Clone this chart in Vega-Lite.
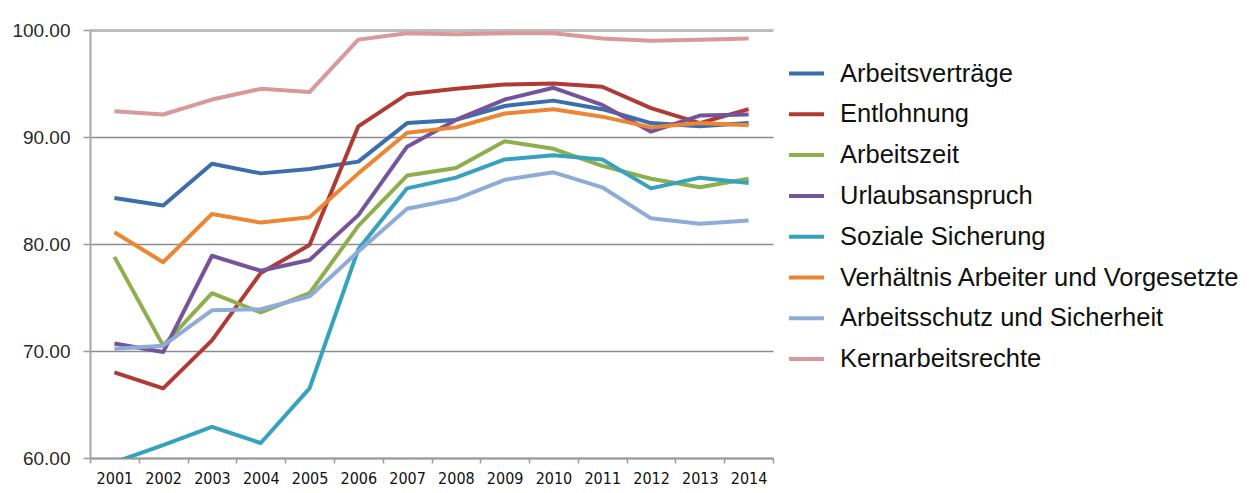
{
  "$schema": "https://vega.github.io/schema/vega-lite/v6.json",
  "width": 683,
  "height": 428,
  "autosize": {"type": "none"},
  "padding": {"left": 90, "top": 30, "right": 487, "bottom": 35},
  "background": "white",
  "config": {
    "view": {"stroke": null},
    "axis": {"labelFont": "Liberation Sans", "labelColor": "#222", "title": null}
  },
  "data": {
    "values": [
      {"year":"2001","series":"Arbeitsverträge","value":84.3},{"year":"2002","series":"Arbeitsverträge","value":83.6},{"year":"2003","series":"Arbeitsverträge","value":87.5},{"year":"2004","series":"Arbeitsverträge","value":86.6},{"year":"2005","series":"Arbeitsverträge","value":87.0},{"year":"2006","series":"Arbeitsverträge","value":87.7},{"year":"2007","series":"Arbeitsverträge","value":91.3},{"year":"2008","series":"Arbeitsverträge","value":91.6},{"year":"2009","series":"Arbeitsverträge","value":92.9},{"year":"2010","series":"Arbeitsverträge","value":93.4},{"year":"2011","series":"Arbeitsverträge","value":92.6},{"year":"2012","series":"Arbeitsverträge","value":91.3},{"year":"2013","series":"Arbeitsverträge","value":91.0},{"year":"2014","series":"Arbeitsverträge","value":91.3},
      {"year":"2001","series":"Entlohnung","value":68.0},{"year":"2002","series":"Entlohnung","value":66.5},{"year":"2003","series":"Entlohnung","value":71.0},{"year":"2004","series":"Entlohnung","value":77.3},{"year":"2005","series":"Entlohnung","value":79.9},{"year":"2006","series":"Entlohnung","value":91.0},{"year":"2007","series":"Entlohnung","value":94.0},{"year":"2008","series":"Entlohnung","value":94.5},{"year":"2009","series":"Entlohnung","value":94.9},{"year":"2010","series":"Entlohnung","value":95.0},{"year":"2011","series":"Entlohnung","value":94.7},{"year":"2012","series":"Entlohnung","value":92.7},{"year":"2013","series":"Entlohnung","value":91.3},{"year":"2014","series":"Entlohnung","value":92.6},
      {"year":"2001","series":"Arbeitszeit","value":78.8},{"year":"2002","series":"Arbeitszeit","value":70.5},{"year":"2003","series":"Arbeitszeit","value":75.4},{"year":"2004","series":"Arbeitszeit","value":73.6},{"year":"2005","series":"Arbeitszeit","value":75.4},{"year":"2006","series":"Arbeitszeit","value":81.7},{"year":"2007","series":"Arbeitszeit","value":86.4},{"year":"2008","series":"Arbeitszeit","value":87.1},{"year":"2009","series":"Arbeitszeit","value":89.6},{"year":"2010","series":"Arbeitszeit","value":88.9},{"year":"2011","series":"Arbeitszeit","value":87.3},{"year":"2012","series":"Arbeitszeit","value":86.1},{"year":"2013","series":"Arbeitszeit","value":85.3},{"year":"2014","series":"Arbeitszeit","value":86.1},
      {"year":"2001","series":"Urlaubsanspruch","value":70.7},{"year":"2002","series":"Urlaubsanspruch","value":69.9},{"year":"2003","series":"Urlaubsanspruch","value":78.9},{"year":"2004","series":"Urlaubsanspruch","value":77.5},{"year":"2005","series":"Urlaubsanspruch","value":78.5},{"year":"2006","series":"Urlaubsanspruch","value":82.7},{"year":"2007","series":"Urlaubsanspruch","value":89.1},{"year":"2008","series":"Urlaubsanspruch","value":91.6},{"year":"2009","series":"Urlaubsanspruch","value":93.5},{"year":"2010","series":"Urlaubsanspruch","value":94.6},{"year":"2011","series":"Urlaubsanspruch","value":93.0},{"year":"2012","series":"Urlaubsanspruch","value":90.5},{"year":"2013","series":"Urlaubsanspruch","value":92.0},{"year":"2014","series":"Urlaubsanspruch","value":92.1},
      {"year":"2001","series":"Soziale Sicherung","value":59.6},{"year":"2002","series":"Soziale Sicherung","value":61.2},{"year":"2003","series":"Soziale Sicherung","value":62.9},{"year":"2004","series":"Soziale Sicherung","value":61.4},{"year":"2005","series":"Soziale Sicherung","value":66.5},{"year":"2006","series":"Soziale Sicherung","value":79.5},{"year":"2007","series":"Soziale Sicherung","value":85.2},{"year":"2008","series":"Soziale Sicherung","value":86.2},{"year":"2009","series":"Soziale Sicherung","value":87.9},{"year":"2010","series":"Soziale Sicherung","value":88.3},{"year":"2011","series":"Soziale Sicherung","value":87.9},{"year":"2012","series":"Soziale Sicherung","value":85.2},{"year":"2013","series":"Soziale Sicherung","value":86.2},{"year":"2014","series":"Soziale Sicherung","value":85.7},
      {"year":"2001","series":"Verhältnis Arbeiter und Vorgesetzte","value":81.1},{"year":"2002","series":"Verhältnis Arbeiter und Vorgesetzte","value":78.3},{"year":"2003","series":"Verhältnis Arbeiter und Vorgesetzte","value":82.8},{"year":"2004","series":"Verhältnis Arbeiter und Vorgesetzte","value":82.0},{"year":"2005","series":"Verhältnis Arbeiter und Vorgesetzte","value":82.5},{"year":"2006","series":"Verhältnis Arbeiter und Vorgesetzte","value":86.6},{"year":"2007","series":"Verhältnis Arbeiter und Vorgesetzte","value":90.4},{"year":"2008","series":"Verhältnis Arbeiter und Vorgesetzte","value":90.9},{"year":"2009","series":"Verhältnis Arbeiter und Vorgesetzte","value":92.2},{"year":"2010","series":"Verhältnis Arbeiter und Vorgesetzte","value":92.6},{"year":"2011","series":"Verhältnis Arbeiter und Vorgesetzte","value":91.9},{"year":"2012","series":"Verhältnis Arbeiter und Vorgesetzte","value":90.9},{"year":"2013","series":"Verhältnis Arbeiter und Vorgesetzte","value":91.3},{"year":"2014","series":"Verhältnis Arbeiter und Vorgesetzte","value":91.1},
      {"year":"2001","series":"Arbeitsschutz und Sicherheit","value":70.2},{"year":"2002","series":"Arbeitsschutz und Sicherheit","value":70.5},{"year":"2003","series":"Arbeitsschutz und Sicherheit","value":73.8},{"year":"2004","series":"Arbeitsschutz und Sicherheit","value":73.9},{"year":"2005","series":"Arbeitsschutz und Sicherheit","value":75.1},{"year":"2006","series":"Arbeitsschutz und Sicherheit","value":79.3},{"year":"2007","series":"Arbeitsschutz und Sicherheit","value":83.3},{"year":"2008","series":"Arbeitsschutz und Sicherheit","value":84.2},{"year":"2009","series":"Arbeitsschutz und Sicherheit","value":86.0},{"year":"2010","series":"Arbeitsschutz und Sicherheit","value":86.7},{"year":"2011","series":"Arbeitsschutz und Sicherheit","value":85.3},{"year":"2012","series":"Arbeitsschutz und Sicherheit","value":82.4},{"year":"2013","series":"Arbeitsschutz und Sicherheit","value":81.9},{"year":"2014","series":"Arbeitsschutz und Sicherheit","value":82.2},
      {"year":"2001","series":"Kernarbeitsrechte","value":92.4},{"year":"2002","series":"Kernarbeitsrechte","value":92.1},{"year":"2003","series":"Kernarbeitsrechte","value":93.5},{"year":"2004","series":"Kernarbeitsrechte","value":94.5},{"year":"2005","series":"Kernarbeitsrechte","value":94.2},{"year":"2006","series":"Kernarbeitsrechte","value":99.1},{"year":"2007","series":"Kernarbeitsrechte","value":99.7},{"year":"2008","series":"Kernarbeitsrechte","value":99.6},{"year":"2009","series":"Kernarbeitsrechte","value":99.7},{"year":"2010","series":"Kernarbeitsrechte","value":99.7},{"year":"2011","series":"Kernarbeitsrechte","value":99.2},{"year":"2012","series":"Kernarbeitsrechte","value":99.0},{"year":"2013","series":"Kernarbeitsrechte","value":99.1},{"year":"2014","series":"Kernarbeitsrechte","value":99.2}
    ]
  },
  "mark": {"type": "line", "strokeWidth": 4, "clip": true, "strokeJoin": "round"},
  "encoding": {
    "x": {
      "field": "year", "type": "ordinal",
      "scale": {"type": "band", "paddingInner": 0, "paddingOuter": 0},
      "axis": {
        "labelAngle": 0, "labelFont": "Liberation Sans Narrow, DejaVu Sans Condensed, sans-serif",
        "labelFontSize": 16, "labelColor": "#111", "labelPadding": 7,
        "tickBand": "extent", "tickSize": 5, "tickColor": "#999", "tickWidth": 1.5,
        "domainColor": "#999", "domainWidth": 2, "grid": false
      }
    },
    "y": {
      "field": "value", "type": "quantitative",
      "scale": {"domain": [60, 100], "nice": false, "zero": false},
      "axis": {
        "values": [60, 70, 80, 90, 100], "format": ".2f",
        "labelFontSize": 19, "labelColor": "#2a2a2a", "labelPadding": 13,
        "tickSize": 7, "tickColor": "#999", "tickWidth": 1.5,
        "domainColor": "#a6a6a6", "domainWidth": 2,
        "grid": true,
        "gridColor": {"condition": {"test": "datum.value === 100", "value": "#bdbdbd"}, "value": "#8c8c8c"},
        "gridWidth": {"condition": {"test": "datum.value === 100", "value": 3}, "value": 1.5}
      }
    },
    "color": {
      "field": "series", "type": "nominal",
      "scale": {
        "domain": ["Arbeitsverträge", "Entlohnung", "Arbeitszeit", "Urlaubsanspruch", "Soziale Sicherung", "Verhältnis Arbeiter und Vorgesetzte", "Arbeitsschutz und Sicherheit", "Kernarbeitsrechte"],
        "range": ["#3b6eaa", "#b03a36", "#8db04d", "#74559b", "#37a2bd", "#ed8634", "#8facd8", "#d9999a"]
      },
      "legend": {
        "title": null, "orient": "none", "legendX": 697, "legendY": 24,
        "symbolType": "stroke", "symbolSize": 1225, "symbolStrokeWidth": 4,
        "labelFont": "Liberation Sans", "labelFontSize": 25.5, "labelColor": "#111",
        "labelOffset": 14, "labelLimit": 600, "rowPadding": 7.8, "padding": 0
      }
    }
  }
}
